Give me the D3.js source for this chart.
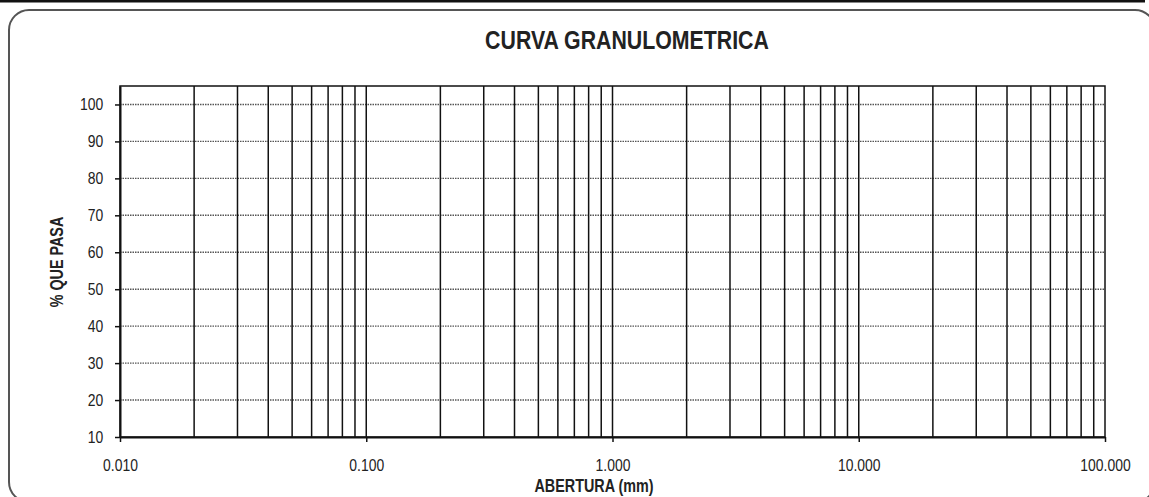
<!DOCTYPE html>
<html>
<head>
<meta charset="utf-8">
<script src="https://cdn.jsdelivr.net/npm/d3@7"></script>
<style>
  body { margin: 0; background: #fff; }
  text { font-family: "Liberation Sans", Arial, sans-serif; fill: #222; }
</style>
</head>
<body>
<svg id="chart"></svg>
<script>
// chart values
let xDomain = [0.01, 100],
  yDomain = [10, 105],
  xTicks = [0.01, 0.1, 1, 10, 100],
  xTickLabels = ["0.010", "0.100", "1.000", "10.000", "100.000"],
  yTicks = [10, 20, 30, 40, 50, 60, 70, 80, 90, 100],
  title = "CURVA GRANULOMETRICA",
  xTitle = "ABERTURA (mm)",
  yTitle = "% QUE PASA";

let width = 1149,
  height = 497,
  margins = {left: 120, right: 44, top: 86, bottom: 60},
  squeeze = 0.82;

let svg = d3.select("#chart")
  .attr("width", width)
  .attr("height", height);

// frame
svg.append("line")
  .attr("x1", 0).attr("x2", 1145).attr("y1", 1.2).attr("y2", 1.2)
  .attr("stroke", "#111").attr("stroke-width", 2.5);
svg.append("rect")
  .attr("x", 9).attr("y", 10).attr("width", 1146).attr("height", 492)
  .attr("rx", 20).attr("ry", 20)
  .attr("fill", "none").attr("stroke", "#555").attr("stroke-width", 2);

let x = d3.scaleLog().domain(xDomain).range([margins.left, width - margins.right]),
  y = d3.scaleLinear().domain(yDomain).range([height - margins.bottom, margins.top]);

let plot = svg.append("g");

// horizontal dotted grid
plot.append("g").selectAll("line")
  .data(yTicks.slice(1)).enter()
  .append("line")
  .attr("x1", x(xDomain[0])).attr("x2", x(xDomain[1]))
  .attr("y1", d => y(d)).attr("y2", d => y(d))
  .attr("stroke", "#555").attr("stroke-width", 1.4)
  .attr("stroke-dasharray", "1.5,1");

// vertical grid lines, one per log minor tick
plot.append("g").selectAll("line")
  .data(x.ticks().filter(d => d > xDomain[0] && d < xDomain[1])).enter()
  .append("line")
  .attr("x1", d => x(d)).attr("x2", d => x(d))
  .attr("y1", y(yDomain[0])).attr("y2", y(yDomain[1]))
  .attr("stroke", "#111").attr("stroke-width", 1.5);

// plot border
plot.append("rect")
  .attr("x", x(xDomain[0])).attr("y", y(yDomain[1]))
  .attr("width", x(xDomain[1]) - x(xDomain[0]))
  .attr("height", y(yDomain[0]) - y(yDomain[1]))
  .attr("fill", "none").attr("stroke", "#111").attr("stroke-width", 1.5);

// axes
let yAxis = svg.append("g")
  .attr("transform", `translate(${x(xDomain[0])},0)`)
  .call(d3.axisLeft(y).tickValues(yTicks).tickSize(5).tickSizeOuter(0).tickPadding(15.5));
let xAxis = svg.append("g")
  .attr("transform", `translate(0,${y(yDomain[0])})`)
  .call(d3.axisBottom(x).tickValues(xTicks).tickSize(5).tickSizeOuter(0).tickPadding(16.5)
    .tickFormat((d, i) => xTickLabels[i]));

[xAxis, yAxis].forEach(ax => {
  ax.select(".domain").attr("stroke", "#111").attr("stroke-width", 2);
  ax.selectAll(".tick line").attr("stroke", "#111").attr("stroke-width", 1.5);
  ax.selectAll("text")
    .attr("font-family", "Liberation Sans, Arial, sans-serif")
    .attr("font-size", 17).attr("fill", "#222")
    .attr("transform", `scale(${squeeze},1)`);
});

// titles
svg.append("text")
  .attr("transform", `translate(627,49) scale(${squeeze},1)`)
  .attr("text-anchor", "middle")
  .attr("font-size", 26).attr("font-weight", "bold")
  .text(title);

svg.append("text")
  .attr("transform", `translate(594,492) scale(${squeeze},1)`)
  .attr("text-anchor", "middle")
  .attr("font-size", 17.5).attr("font-weight", "bold")
  .text(xTitle);

svg.append("text")
  .attr("transform", `translate(63,262) rotate(-90) scale(${squeeze},1)`)
  .attr("text-anchor", "middle")
  .attr("font-size", 17.5).attr("font-weight", "bold")
  .text(yTitle);
</script>
</body>
</html>
